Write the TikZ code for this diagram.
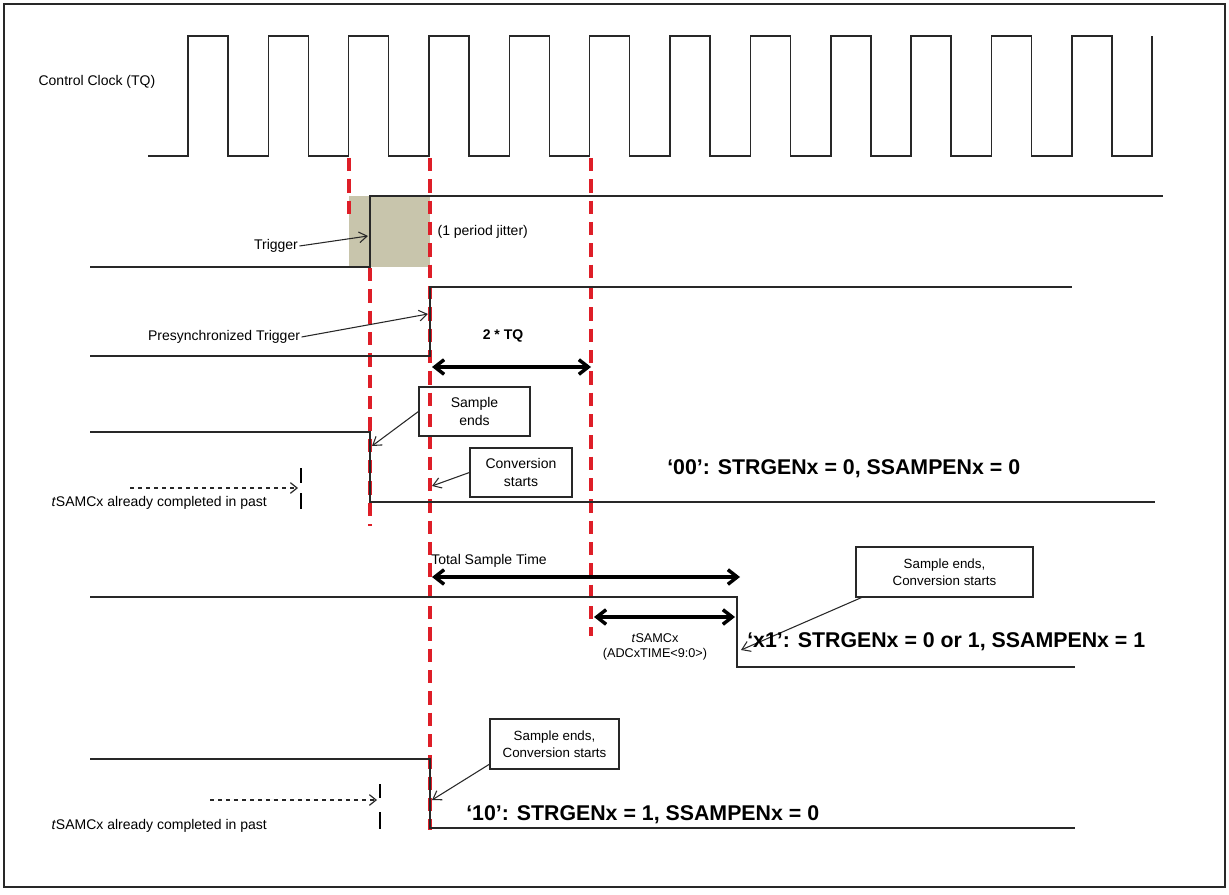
\documentclass[tikz,border=0pt]{standalone}
\usepackage{fontspec}
\setmainfont{Liberation Sans}
\usetikzlibrary{arrows.meta}
\definecolor{redline}{RGB}{222,30,40}
\definecolor{jitter}{RGB}{200,197,172}
\definecolor{sig}{RGB}{40,40,40}
\begin{document}
\begin{tikzpicture}[x=0.75pt,y=-0.75pt,
  sigline/.style={draw=sig,line width=1.1pt},
  reddash/.style={draw=redline,line width=2.4pt,dash pattern=on 10pt off 6pt},
  lbl/.style={font=\fontsize{10.5}{12}\selectfont,inner sep=1pt},
  big/.style={font=\fontsize{16}{19}\selectfont\bfseries,inner sep=0pt,anchor=west},
  callout/.style={draw=sig,line width=0.9pt,font=\fontsize{10.5}{13}\selectfont,align=center,inner sep=2pt},
  ptr/.style={draw=sig,line width=0.8pt,-{Straight Barb[length=6pt,width=8pt]}},
  dim/.style={draw=black,line width=2.6pt,{Straight Barb[length=7pt,width=11pt]}-{Straight Barb[length=7pt,width=11pt]}}]
\useasboundingbox (0,0) rectangle (1229,895);
\draw[draw=sig,line width=1pt] (4,4) rectangle (1225,887);
% jitter box
\fill[jitter] (349,196) rectangle (430,267);
% clock
\draw[sigline] (148,156)
  \foreach \k in {0,...,11} { -- ({188+80.35*\k},156) -- ({188+80.35*\k},36) -- ({228+80.35*\k},36) -- ({228+80.35*\k},156) }
  -- (1152,156) -- (1152,36);
\node[lbl,anchor=west] (clk) at (37,82) {Control Clock (TQ)};
% red dashed
\draw[reddash] (349,158) -- (349,217);
\draw[reddash] (370,268) -- (370,526);
\draw[reddash] (430,158) -- (430,830);
\draw[reddash] (591,158) -- (591,636);
% trigger
\draw[sigline] (90,267) -- (370,267) -- (370,196) -- (1163,196);
\node[lbl] (trg) at (276,246) {Trigger};
\coordinate (trgE) at (368,236);
\draw[ptr] (trg.east) -- (trgE);
\node[lbl,anchor=west] (jit) at (436,232) {(1 period jitter)};
% presync
\draw[sigline] (90,356) -- (430,356) -- (430,287) -- (1072,287);
\node[lbl] (pst) at (224,337) {Presynchronized Trigger};
\coordinate (pstE) at (428,314);
\draw[ptr] (pst.east) -- (pstE);
\coordinate (tq1) at (432,367); \coordinate (tq2) at (591,367);
\draw[dim] (tq1) -- (tq2);
\node[lbl,font=\fontsize{10.5}{12}\selectfont\bfseries] (tq) at (503,336) {2 * TQ};
% 00
\draw[sigline] (90,432) -- (370,432) -- (370,502) -- (1155,502);
\node[callout,minimum width=111*0.75pt,minimum height=49*0.75pt] (se) at (474.5,411.5) {Sample\\ends};
\coordinate (seE) at (372,446);
\draw[ptr] (se.west) -- (seE);
\node[callout,minimum width=102*0.75pt,minimum height=49*0.75pt] (cs) at (521,472.5) {Conversion\\starts};
\coordinate (csE) at (432,486);
\draw[ptr] (cs.west) -- (csE);
\node[big] (l00) at (667,469) {‘00’: STRGENx = 0, SSAMPENx = 0};
\coordinate (pa1) at (130,488); \coordinate (pa2) at (298,488);
\draw[draw=sig,line width=0.9pt,dashed,-{Straight Barb[length=5pt,width=8pt]}] (pa1) -- (pa2);
\draw[black,line width=2pt] (301,468) -- (301,483) (301,493) -- (301,509);
\node[lbl,anchor=west] (pt1) at (50,503) {\textit{t}SAMCx already completed in past};
% x1
\draw[sigline] (90,597) -- (737,597) -- (737,667) -- (1075,667);
\coordinate (ts1) at (432,577); \coordinate (ts2) at (740,577);
\draw[dim] (ts1) -- (ts2);
\node[lbl] (tst) at (489,561) {Total Sample Time};
\coordinate (sa1) at (594,617); \coordinate (sa2) at (735,617);
\draw[dim] (sa1) -- (sa2);
\node[lbl,align=center,font=\fontsize{9.5}{11.5}\selectfont] (sam) at (655,647) {\textit{t}SAMCx\\(ADCxTIME<9:0>)};
\node[callout,font=\fontsize{10}{12.5}\selectfont,minimum width=177*0.75pt,minimum height=50*0.75pt] (se2) at (944.5,572) {Sample ends,\\Conversion starts};
\coordinate (se2E) at (741,650);
\draw[ptr] (se2.south west) ++(6,0) -- (se2E);
\node[big] (lx1) at (747,642) {‘x1’: STRGENx = 0 or 1, SSAMPENx = 1};
% 10
\draw[sigline] (90,759) -- (430,759) -- (430,828) -- (1075,828);
\node[callout,font=\fontsize{10}{12.5}\selectfont,minimum width=129*0.75pt,minimum height=50*0.75pt] (se3) at (554.5,744) {Sample ends,\\Conversion starts};
\coordinate (se3E) at (432,800);
\draw[ptr] (se3.south west) ++(1,-6) -- (se3E);
\node[big] (l10) at (466,815) {‘10’: STRGENx = 1, SSAMPENx = 0};
\coordinate (pb1) at (210,800); \coordinate (pb2) at (377,800);
\draw[draw=sig,line width=0.9pt,dashed,-{Straight Barb[length=5pt,width=8pt]}] (pb1) -- (pb2);
\draw[black,line width=2pt] (380,784) -- (380,798) (380,812) -- (380,829);
\node[lbl,anchor=west] (pt2) at (50,826) {\textit{t}SAMCx already completed in past};
\end{tikzpicture}
\end{document}
